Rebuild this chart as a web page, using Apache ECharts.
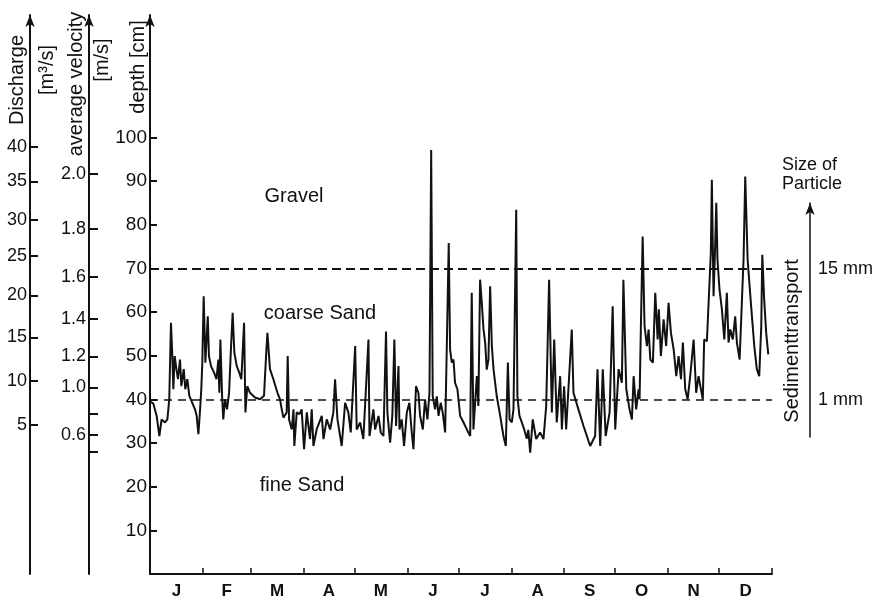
<!DOCTYPE html>
<html>
<head>
<meta charset="utf-8">
<title>depth / sediment transport</title>
<script src="https://cdn.jsdelivr.net/npm/echarts@6/dist/echarts.min.js"></script>
<style>
  html, body { margin: 0; padding: 0; background: #fff; }
  #main { width: 878px; height: 600px; }
</style>
</head>
<body>
<div id="main"></div>
<script>
// day of year
var days = [0, 2, 3.9, 5.5, 6.8, 8.8, 10.2, 11.3, 12.3, 13.1,
    13.7, 14.5, 15.5, 16.4, 17.6, 18.4, 19.8, 20.7, 21.9, 23.1,
    24.8, 26.4, 27.4, 28.4, 29.4, 30.1, 30.7, 31.5, 32.5, 33.9,
    34.6, 35.8, 37.6, 39, 40.1, 40.7, 41.3, 42.3, 43, 44,
    45.2, 46.4, 47.4, 48.5, 49.5, 50.9, 52.4, 53.6, 55.2, 56,
    57.1, 58.7, 61.6, 64.6, 66.9, 68.1, 68.9, 70.4, 72.4, 74.8,
    76.3, 77.3, 78.3, 80.2, 80.8, 81.6, 83.2, 84.2, 84.7, 86.1,
    87.7, 89, 90.4, 92, 93.9, 94.9, 95.9, 97.8, 100.8, 101.8,
    103.7, 105.7, 107.6, 108.6, 110, 112.5, 114.5, 116.4, 117.8, 120.4,
    121.3, 123.3, 125.2, 128.2, 128.8, 131.1, 132.1, 134.1, 135.4, 137,
    138.5, 139.3, 140.9, 142.2, 143.4, 144.4, 145.8, 146.4, 147.7, 149.1,
    150.7, 152.2, 153.6, 154.6, 156.1, 157.5, 158.5, 160.1, 161.4, 162.8,
    164, 165, 165.9, 167.3, 168.3, 169.3, 170.6, 171.8, 173.2, 174.5,
    175.3, 176.1, 177.1, 178.1, 179, 180.4, 182, 184, 185.9, 187.9,
    188.8, 189.8, 190.8, 191.8, 192.7, 193.7, 194.7, 195.7, 196.7, 197.6,
    198.6, 199.6, 200.6, 201.6, 203.5, 205.5, 207.4, 208.8, 210, 211,
    212.3, 213.3, 214.9, 215.6, 216.8, 218.2, 219.6, 221.1, 222, 223.1,
    224.6, 226.6, 228.9, 230.9, 232.5, 234.2, 235.8, 237.2, 238.7, 240.7,
    241.7, 243, 244.2, 247.5, 248.5, 251.4, 254.4, 258.3, 261.2, 262.6,
    264.2, 265.7, 267.4, 269.7, 271.5, 273, 275, 276.9, 277.8, 279.5,
    281.4, 282.8, 283.8, 285.3, 286.7, 287.3, 288.1, 289.1, 290.2, 291.6,
    292.6, 293.6, 295.1, 296.5, 297.9, 298.6, 299.8, 301.4, 302.9, 304.3,
    305.7, 307.3, 308.8, 310.2, 311.6, 312.7, 314.1, 315.5, 317, 319,
    320.5, 321.9, 323.3, 324.4, 325.2, 326.8, 327.8, 329.1, 329.7, 330.7,
    331.7, 332.3, 333, 334.2, 335.6, 337, 338.5, 339.5, 340.5, 342,
    343.4, 344.4, 346, 347.3, 348.3, 349.3, 350.7, 352.6, 354.6, 356.1,
    357.5, 358.7, 359.3, 360.4, 361.6, 362.8];

// depth [cm]
var depth = [39.5, 39, 36.2, 31.6, 35.4, 34.7, 35.4, 40, 57.5, 49.9,
    42.3, 49.9, 46.9, 44.6, 49.1, 43, 46.9, 42.3, 44.6, 40.8,
    39.2, 37.7, 36.2, 32, 37.7, 42.3, 48.4, 63.6, 48.4, 59,
    49.9, 47.6, 46.1, 44.6, 49.1, 41.5, 53.7, 40.8, 35.4, 40,
    37.7, 41.5, 50.7, 59.8, 50.7, 47.6, 46.1, 44.6, 57.5, 37,
    43, 41.5, 40.4, 40, 40.8, 49.9, 55.2, 46.9, 44.6, 41.5,
    40, 37.7, 35.8, 37, 49.9, 35.4, 33.1, 37.7, 29.3, 37,
    36.6, 37.7, 28.6, 37, 30.9, 37.7, 29.3, 33.1, 36.2, 30.9,
    35.4, 33.1, 37, 44.6, 35.4, 29.3, 39.2, 37, 32.4, 52.2,
    33.1, 34.7, 30.9, 53.7, 31.6, 37.7, 33.1, 36.2, 32.4, 31.6,
    55.5, 37, 30.1, 36.2, 53.7, 33.9, 47.6, 33.1, 35.4, 29.3,
    37, 39.2, 32.4, 28.6, 43, 41.5, 36.2, 33.1, 40, 35.4,
    41.5, 97.1, 40.7, 37.7, 40.7, 36.2, 39.2, 36.9, 32.4, 59,
    75.8, 51.4, 48.4, 49.1, 43.8, 42.3, 36.2, 34.7, 33.1, 31.6,
    64.4, 33.1, 39.2, 45.3, 38.5, 67.4, 62.1, 56, 52.9, 46.8,
    49.1, 65.9, 52.2, 46.8, 40.7, 36.2, 31.6, 29.3, 48.4, 35.4,
    34.7, 37.7, 83.4, 40.7, 36.2, 34.7, 33.1, 31, 33, 27.8,
    35.4, 30.9, 32.4, 30.9, 38.5, 67.4, 37, 53.7, 34.7, 45.3,
    33.1, 43, 33.1, 56, 41.5, 37.7, 33.9, 29.3, 31.6, 46.9,
    29.3, 46.9, 31.6, 37, 61.3, 33.1, 46.9, 43.8, 67.4, 42.3,
    37.7, 35.4, 45.3, 37.7, 42.3, 40, 57.5, 77.3, 56.8, 52.2,
    56, 49.1, 48.4, 64.4, 53.7, 60.6, 49.9, 58.3, 52.2, 62.1,
    55.2, 51.4, 45.3, 49.9, 44.6, 53, 42.3, 40, 45.3, 53.7,
    41.5, 45.3, 42.3, 40, 53.7, 53.3, 62.1, 73.5, 90.3, 63.6,
    75.8, 85, 72, 65.1, 60.6, 53.7, 64.4, 53, 56, 53.7,
    59, 53, 49.1, 62.1, 72, 91, 72, 62.1, 52.2, 46.9,
    45.3, 56.8, 73.1, 62.9, 55.2, 50.3];

// months
var monthEnds = [31, 59, 90, 120, 151, 181, 212, 243, 273, 304, 334, 365];
var monthMid = [15.5, 45, 74.5, 105, 135.5, 166, 196.5, 227.5, 258, 288.5, 319, 349.5];
var monthNames = ['J', 'F', 'M', 'A', 'M', 'J', 'J', 'A', 'S', 'O', 'N', 'D'];

// depth ticks
var depthTicks = [10, 20, 30, 40, 50, 60, 70, 80, 90, 100];

// discharge scale (not linear) - where each tick sits in depth units
var dischargeAt = [34.1, 44.2, 54.2, 63.8, 72.8, 81.1, 89.9, 97.8];
var dischargeLabels = ['5', '10', '15', '20', '25', '30', '35', '40'];

// velocity scale
var velocityAt = [28.0, 31.8, 36.6, 42.7, 49.8, 58.4, 68.0, 79.0, 91.6];
var velocityLabels = ['', '0.6', '', '1.0', '1.2', '1.4', '1.6', '1.8', '2.0'];

// size of particle limits
var particleAt = [40, 70];
var particleLabels = ['1 mm', '15 mm'];

var FONT = 'Liberation Sans, Arial, Helvetica, sans-serif';
var INK = '#111';

function lookup(vals, labels) {
    return function(v) {
        var i = vals.indexOf(v);
        return i < 0 ? '' : labels[i];
    };
}

function sideAxis(offset, vals, labels, tickLen) {
    return {
        type: 'value',
        gridIndex: 0,
        position: 'left',
        offset: offset,
        min: 0,
        max: 128,
        axisLine: { show: true, onZero: false, symbol: ['none', 'arrow'], symbolSize: [7, 12], lineStyle: { color: INK, width: 2 } },
        axisTick: { show: true, inside: true, length: tickLen, customValues: vals, lineStyle: { color: INK, width: 2 } },
        axisLabel: { show: true, margin: 3, customValues: vals, formatter: lookup(vals, labels), color: INK, fontFamily: FONT, fontSize: 18 },
        splitLine: { show: false }
    };
}

function vtext(txt, x, y, size) {
    return {
        type: 'text',
        x: x,
        y: y,
        rotation: Math.PI / 2,
        style: { text: txt, fill: INK, font: size + 'px ' + FONT, textAlign: 'center', textVerticalAlign: 'middle', align: 'center', verticalAlign: 'middle' }
    };
}

function htext(txt, x, y, size) {
    return {
        type: 'text',
        x: x,
        y: y,
        style: { text: txt, fill: INK, font: size + 'px ' + FONT, textAlign: 'center', textVerticalAlign: 'middle', align: 'center', verticalAlign: 'middle' }
    };
}

var chart = echarts.init(document.getElementById('main'), null, { renderer: 'canvas' });

var points = days.map(function(d, i) { return [d, depth[i]]; });

var option = {
    backgroundColor: '#fff',
    animation: false,
    grid: [
        { left: 150, right: 106, top: 15, bottom: 25 },
        { left: 808, width: 2, top: 203, bottom: 163 }
    ],
    xAxis: [{
        type: 'value',
        gridIndex: 0,
        min: 0,
        max: 365,
        axisLine: { show: true, onZero: false, lineStyle: { color: INK, width: 2 } },
        axisTick: { show: true, inside: true, length: 6, customValues: monthEnds, lineStyle: { color: INK, width: 1.5 } },
        axisLabel: { show: true, margin: 9, customValues: monthMid, formatter: lookup(monthMid, monthNames), color: INK, fontFamily: FONT, fontSize: 17, fontWeight: 'bold' },
        splitLine: { show: false }
    }, {
        type: 'value',
        gridIndex: 1,
        show: false
    }],
    yAxis: [{
        type: 'value',
        gridIndex: 0,
        position: 'left',
        min: 0,
        max: 128,
        axisLine: { show: true, onZero: false, symbol: ['none', 'arrow'], symbolSize: [7, 12], lineStyle: { color: INK, width: 2 } },
        axisTick: { show: true, inside: true, length: 7, customValues: depthTicks, lineStyle: { color: INK, width: 2 } },
        axisLabel: { show: true, margin: 3, customValues: depthTicks, color: INK, fontFamily: FONT, fontSize: 19 },
        splitLine: { show: false }
    },
        sideAxis(120, dischargeAt, dischargeLabels, 8),
        sideAxis(61, velocityAt, velocityLabels, 9),
    {
        // Size of Particle
        type: 'value',
        gridIndex: 1,
        position: 'right',
        min: 31.5,
        max: 85,
        axisLine: { show: true, onZero: false, symbol: ['none', 'arrow'], symbolSize: [7, 12], lineStyle: { color: INK, width: 1.5 } },
        axisTick: { show: false },
        axisLabel: { show: true, margin: 8, customValues: particleAt, formatter: lookup(particleAt, particleLabels), color: INK, fontFamily: FONT, fontSize: 18 },
        splitLine: { show: false }
    }],
    series: [{
        name: 'depth',
        type: 'line',
        xAxisIndex: 0,
        yAxisIndex: 0,
        data: points,
        showSymbol: false,
        lineStyle: { color: INK, width: 2 },
        markLine: {
            silent: true,
            symbol: ['none', 'none'],
            label: { show: false },
            data: [
                { yAxis: particleAt[1], lineStyle: { color: INK, width: 2, type: [9, 5] } },
                { yAxis: particleAt[0], lineStyle: { color: INK, width: 1.5, type: [8, 6] } }
            ]
        }
    }],
    graphic: [
        vtext('Discharge', 17, 80, 20),
        vtext('[m³/s]', 47, 70, 20),
        vtext('average velocity', 76, 84, 20),
        vtext('[m/s]', 102, 60, 20),
        vtext('depth [cm]', 138, 67, 20),
        vtext('Sedimenttransport', 792, 341, 20),
        htext('Gravel', 294, 196, 20),
        htext('coarse Sand', 320, 313, 20),
        htext('fine Sand', 302, 485, 20),
        {
            type: 'text',
            x: 782,
            y: 156,
            style: { text: 'Size of\nParticle', fill: INK, font: '18px ' + FONT, lineHeight: 19, textAlign: 'left', textVerticalAlign: 'top', align: 'left', verticalAlign: 'top' }
        }
    ]
};

chart.setOption(option);
</script>
</body>
</html>
